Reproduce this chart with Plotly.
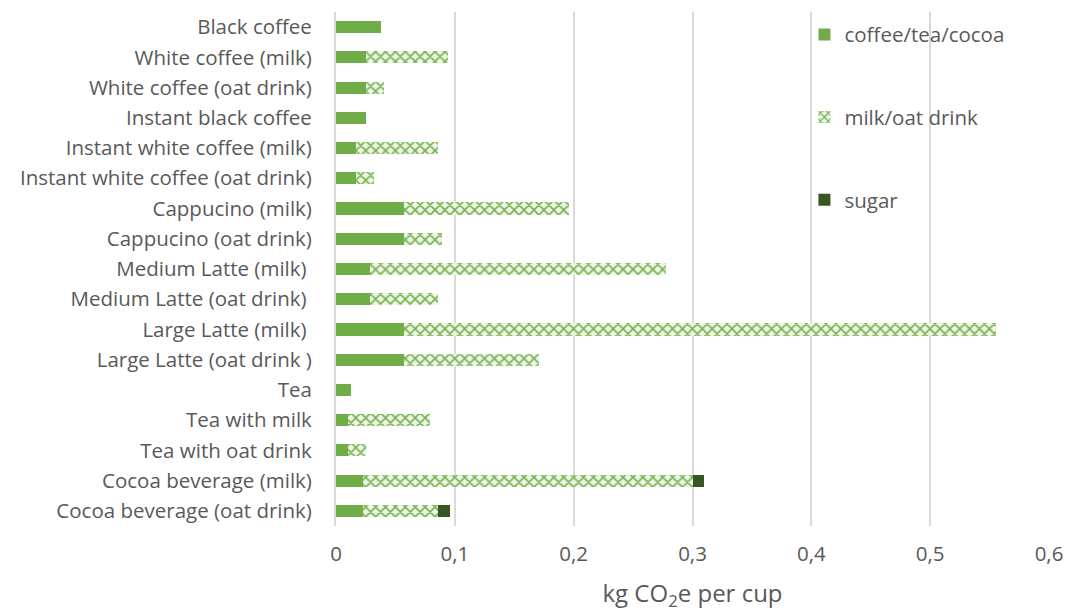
import plotly.graph_objects as go

# Carbon footprint per cup, split by ingredient (kg CO2e)
drinks = [
    "Black coffee",
    "White coffee (milk)",
    "White coffee (oat drink)",
    "Instant black coffee",
    "Instant white coffee (milk)",
    "Instant white coffee (oat drink)",
    "Cappucino (milk)",
    "Cappucino (oat drink)",
    "Medium Latte (milk) ",
    "Medium Latte (oat drink) ",
    "Large Latte (milk) ",
    "Large Latte (oat drink )",
    "Tea",
    "Tea with milk",
    "Tea with oat drink",
    "Cocoa beverage (milk)",
    "Cocoa beverage (oat drink)",
]
base = [0.038, 0.025, 0.025, 0.025, 0.017, 0.017, 0.057, 0.057, 0.029,
        0.029, 0.057, 0.057, 0.013, 0.010, 0.010, 0.023, 0.023]
milk_oat = [0.0, 0.069, 0.015, 0.0, 0.069, 0.015, 0.139, 0.032, 0.249,
            0.057, 0.498, 0.114, 0.0, 0.069, 0.015, 0.277, 0.063]
sugar = [0.0, 0.0, 0.0, 0.0, 0.0, 0.0, 0.0, 0.0, 0.0,
         0.0, 0.0, 0.0, 0.0, 0.0, 0.0, 0.0095, 0.010]
x_ticks = [0, 0.1, 0.2, 0.3, 0.4, 0.5, 0.6]

FONT = "Open Sans"
SIZE = 20.5
TEXT = "#595959"
GREEN = "#70ad47"
DARK = "#375623"

fig = go.Figure()
fig.add_trace(go.Bar(
    y=drinks, x=base, orientation="h", name="coffee/tea/cocoa",
    marker=dict(color=GREEN, line=dict(width=0)), legendgroup="a",
))
fig.add_trace(go.Bar(
    y=drinks, x=milk_oat, orientation="h", name="milk/oat drink",
    marker=dict(color="white", line=dict(width=0),
                pattern=dict(shape="x", fgcolor="#76b24e", bgcolor="#eef6e8",
                             size=7, solidity=0.4, fillmode="replace")),
    legendgroup="b",
))
fig.add_trace(go.Bar(
    y=drinks, x=sugar, orientation="h", name="sugar",
    marker=dict(color=DARK, line=dict(width=0)), legendgroup="c",
))

fig.update_layout(
    width=1069, height=612,
    margin=dict(l=336, r=20, t=12, b=86),
    barmode="stack", bargap=0.6,
    separators=", ",
    paper_bgcolor="white", plot_bgcolor="white",
    font=dict(family=FONT, size=SIZE, color=TEXT),
    legend=dict(
        x=0.657, y=0.995, xanchor="left", yanchor="top",
        font=dict(family=FONT, size=SIZE, color=TEXT),
        tracegroupgap=53, bgcolor="rgba(0,0,0,0)",
        traceorder="grouped",
    ),
    xaxis=dict(
        range=[0, 0.6], tickvals=x_ticks, automargin=False,
        showgrid=True, gridcolor="#d9d9d9", gridwidth=2,
        zeroline=False, showline=False,
        ticks="", ticklabelstandoff=13,
        tickfont=dict(family=FONT, size=SIZE, color=TEXT),
        title=dict(text="kg CO<sub>2</sub>e per cup",
                   font=dict(family=FONT, size=24, color=TEXT), standoff=21),
    ),
    yaxis=dict(
        autorange="reversed", automargin=False,
        showgrid=False, zeroline=False,
        showline=True, linecolor="#d9d9d9", linewidth=2,
        ticks="", ticklabelstandoff=18,
        tickfont=dict(family=FONT, size=SIZE, color=TEXT),
    ),
)

fig.write_html("out.html")
